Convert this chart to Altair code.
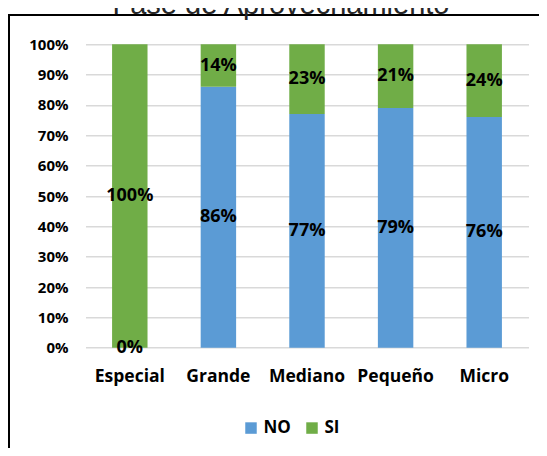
import altair as alt
import pandas as pd

categorias = ["Especial", "Grande", "Mediano", "Pequeño", "Micro"]
valores_no = [0.00, 0.86, 0.77, 0.79, 0.76]
valores_si = [1.00, 0.14, 0.23, 0.21, 0.24]
series = ["NO", "SI"]
colores = ["#5B9BD5", "#70AD47"]
titulo = "Fase de Aprovechamiento"
ticks_y = [0, 0.1, 0.2, 0.3, 0.4, 0.5, 0.6, 0.7, 0.8, 0.9, 1.0]

rows = []
for c, n, s in zip(categorias, valores_no, valores_si):
    rows.append({"cat": c, "serie": "NO", "ord": 0, "v": n, "mid": n / 2})
    rows.append({"cat": c, "serie": "SI", "ord": 1, "v": s, "mid": n + s / 2})
df = pd.DataFrame(rows)

W, H = 443, 303.4
FONT = "Open Sans"

x_scale = alt.Scale(paddingInner=0.6, paddingOuter=0.3)
y_scale = alt.Scale(domain=[0, 1], nice=False)
x_axis = alt.Axis(labelAngle=0, domain=False, ticks=False, tickSize=0,
                  labelFont=FONT, labelFontWeight="bold", labelFontSize=17.5,
                  labelColor="#000000", labelPadding=20)
y_axis = alt.Axis(values=ticks_y, format=".0%", domain=False, ticks=False,
                  tickSize=0, gridColor="#d9d9d9", gridWidth=1.5,
                  labelOverlap=False,
                  labelFont=FONT, labelFontWeight="bold", labelFontSize=15,
                  labelColor="#000000", labelPadding=17.5)

bars = alt.Chart(df).mark_bar().encode(
    x=alt.X("cat:N", sort=categorias, title=None, scale=x_scale, axis=x_axis),
    y=alt.Y("v:Q", stack="zero", title=None, scale=y_scale, axis=y_axis),
    color=alt.Color("serie:N", title=None,
                    scale=alt.Scale(domain=series, range=colores),
                    legend=alt.Legend(orient="none", legendX=157, legendY=375,
                                      direction="horizontal", symbolType="square",
                                      symbolSize=132, symbolStrokeWidth=0,
                                      labelFont=FONT, labelFontWeight="bold",
                                      labelFontSize=17, labelColor="#000000",
                                      labelOffset=4, columnPadding=12)),
    order=alt.Order("ord:Q", sort="ascending"),
)

labels = alt.Chart(df).mark_text(font=FONT, fontWeight="bold", fontSize=18,
                                 color="#000000", baseline="middle", align="center").encode(
    x=alt.X("cat:N", sort=categorias, title=None, scale=x_scale, axis=x_axis),
    y=alt.Y("mid:Q", title=None, scale=y_scale, axis=y_axis),
    text=alt.Text("v:Q", format=".0%"),
)

border = alt.Chart(alt.Data(values=[{"b": 1}])).mark_rect(
    fillOpacity=0, stroke="#000000", strokeWidth=2
).encode(
    x=alt.value(-76.5), x2=alt.value(700),
    y=alt.value(-29.3), y2=alt.value(600),
)

title_mark = alt.Chart(alt.Data(values=[{"t": titulo}])).mark_text(
    font="Liberation Sans", fontSize=29, color="#262626",
    align="center", baseline="alphabetic"
).encode(
    x=alt.value(195.5), y=alt.value(-30.5), text="t:N"
)

chart = alt.layer(border, bars, labels, title_mark).properties(
    width=W, height=H,
    autosize=alt.AutoSizeParams(type="none"),
    padding={"left": 77.5, "top": 36.3, "right": 10.5, "bottom": 100.3},
).configure_view(stroke=None)

chart.save("out.html", embed_options={"renderer": "svg", "actions": False})
